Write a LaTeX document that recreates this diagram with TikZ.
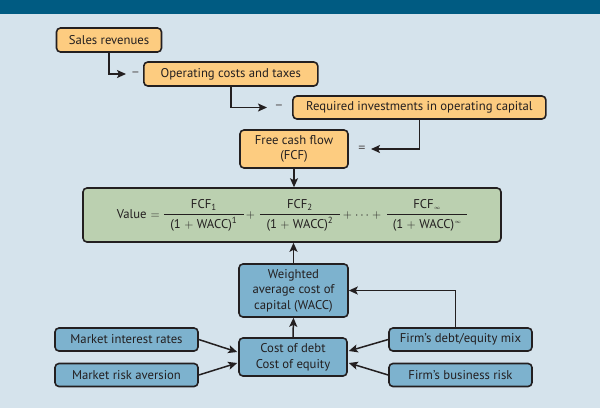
\documentclass[tikz,border=0pt]{standalone}
\usepackage{fontspec}
\setmainfont{PT Sans}
\usetikzlibrary{arrows.meta,calc}
\definecolor{band}{RGB}{0,91,130}
\definecolor{bg}{RGB}{213,227,236}
\definecolor{orangefill}{RGB}{253,204,128}
\definecolor{greenfill}{RGB}{187,208,176}
\definecolor{bluefill}{RGB}{125,178,206}
\definecolor{ink}{RGB}{35,31,32}
\newcommand\myfrac[2]{\begin{tabular}{@{}c@{}}\makebox[80pt]{#1}\\[1pt]\hline\rule{0pt}{14pt}\makebox[80pt]{#2}\end{tabular}}
\newcommand\pl{$+$}
\tikzset{
  box/.style={draw=ink, line width=1.6pt, rounded corners=4pt, inner sep=0pt, align=center, text=ink, font=\fontsize{12.7}{15.6}\selectfont},
  obox/.style={box, fill=orangefill},
  gbox/.style={box, fill=greenfill},
  bbox/.style={box, fill=bluefill},
  arr/.style={draw=ink, line width=1.5pt, -{Stealth[length=9pt,width=8pt,inset=2pt]}},
  sign/.style={text=ink!75, inner sep=0pt, font=\fontsize{14}{14}\selectfont}
}
\begin{document}
\begin{tikzpicture}[x=1pt,y=-1pt]
\fill[bg] (0,0) rectangle (600,408);
\fill[band] (0,0) rectangle (600,14);
\useasboundingbox (0,0) rectangle (600,408);

% top orange boxes
\node[obox, minimum width=105pt, minimum height=24pt] (sales) at (109,40) {Sales revenues};
\node[obox, minimum width=174pt, minimum height=24pt] (ops) at (230.8,74) {Operating costs and taxes};
\node[obox, minimum width=253pt, minimum height=23pt] (req) at (419.4,107.5) {Required investments in operating capital};
\node[obox, minimum width=108pt, minimum height=38pt] (fcf) at (294,149) {Free cash flow\\(FCF)};

\node[sign] (m1) at (135.5,74) {–};
\node[sign] (m2) at (279,107.5) {–};
\node[sign] (eq) at (362,149) {=};

\coordinate (t1) at (126,74);
\coordinate (t2) at (267,107.5);
\coordinate (t3) at (371,149);
\draw[arr] (sales.south) |- (t1);
\draw[arr] (ops.south) |- (t2);
\draw[arr] (req.south) |- (t3);

% value box
\node[gbox, minimum width=418pt, minimum height=54pt] (val) at (292,215) {%
  Value\hspace{4pt}$=$\hspace{4pt}\myfrac{FCF\textsubscript{1}}{(1 \pl{} WACC)\textsuperscript{1}}%
  \hspace{2pt}\pl\hspace{5pt}\myfrac{FCF\textsubscript{2}}{(1 \pl{} WACC)\textsuperscript{2}}%
  \hspace{3pt}\pl\hspace{3pt}$\cdots$\hspace{3pt}\pl\hspace{6pt}\myfrac{FCF\textsubscript{$\scriptscriptstyle\infty$}}{(1 \pl{} WACC)\textsuperscript{$\scriptscriptstyle\infty$}}};

\draw[arr] (fcf.south) -- (val.north -| fcf.south);

% blue boxes
\node[bbox, minimum width=109pt, minimum height=53pt] (wacc) at (293.5,290.5) {Weighted\\average cost of\\capital (WACC)};
\node[bbox, minimum width=108pt, minimum height=38pt] (cost) at (293,357) {Cost of debt\\Cost of equity};
\node[bbox, minimum width=143pt, minimum height=23pt] (mir) at (126.5,339.5) {Market interest rates};
\node[bbox, minimum width=143pt, minimum height=23pt] (mra) at (126.5,375) {Market risk aversion};
\node[bbox, minimum width=143pt, minimum height=23pt] (fde) at (460.5,339.5) {Firm’s debt/equity mix};
\node[bbox, minimum width=143pt, minimum height=23pt] (fbr) at (460.5,375) {Firm’s business risk};

\draw[arr] (wacc.north) -- (val.south -| wacc.north);
\draw[arr] (cost.north) -- (wacc.south);
\draw[arr] (mir.east) -- ($(cost.west)+(-1,-5)$);
\draw[arr] (mra.east) -- ($(cost.west)+(-1,6)$);
\draw[arr] (fde.west) -- ($(cost.east)+(1,-6)$);
\draw[arr] (fbr.west) -- ($(cost.east)+(1,6)$);
\draw[arr] ([xshift=-5pt]fde.north) |- (wacc.east);
\end{tikzpicture}
\end{document}
